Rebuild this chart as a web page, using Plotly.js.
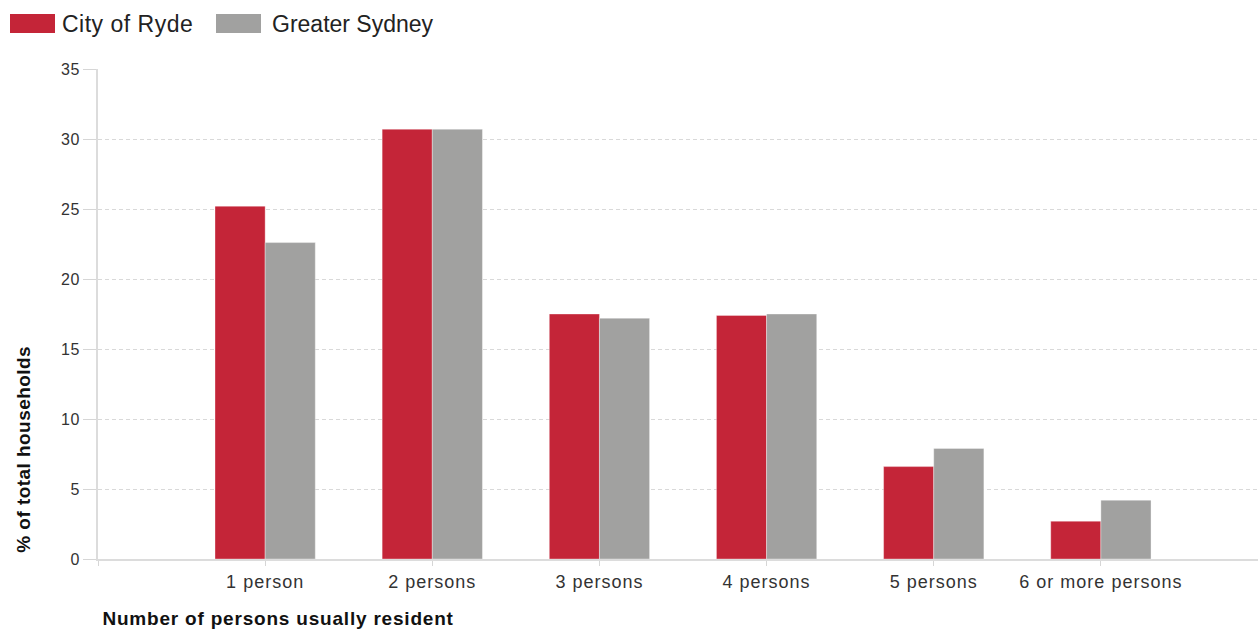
<!DOCTYPE html>
<html>
<head>
<meta charset="utf-8">
<script src="https://cdn.plot.ly/plotly-3.0.1.min.js"></script>
<style>
  html, body { margin: 0; padding: 0; background: #fff; }
  #chart { width: 1258px; height: 629px; }
  /* slightly open letter spacing for the chart texts */
  #chart .xtick text { letter-spacing: 1px; }
  #chart .ytick text { letter-spacing: 0.5px; }
  #chart g.annotation[data-index="0"] text { letter-spacing: 0.5px; }
  #chart g.annotation[data-index="2"] text { letter-spacing: 0.8px; }
  #chart g.annotation[data-index="3"] text { letter-spacing: 0.45px; }
</style>
</head>
<body>
<div id="chart"></div>
<script>
// Household size: share of total households
const categories = ['1 person', '2 persons', '3 persons', '4 persons', '5 persons', '6 or more persons'];
const seriesNames = ['City of Ryde', 'Greater Sydney'];
const rydeValues = [25.2, 30.7, 17.5, 17.4, 6.6, 2.7];
const sydneyValues = [22.6, 30.7, 17.2, 17.5, 7.9, 4.2];
const yTicks = [0, 5, 10, 15, 20, 25, 30, 35];
const xAxisTitle = 'Number of persons usually resident';
const yAxisTitle = '% of total households';

const colors = ['#c42538', '#a1a1a0'];
const FONT = '"Liberation Sans", Arial, sans-serif';

const traces = [rydeValues, sydneyValues].map((vals, i) => ({
  type: 'bar',
  name: seriesNames[i],
  x: categories,
  y: vals,
  marker: { color: colors[i], line: { color: 'rgba(255,255,255,0.35)', width: 1 } },
  showlegend: false,
  hoverinfo: 'x+y+name'
}));

// plot area in pixels: left 98, top 69, width 1160, height 490
const L = 98, T = 69, W = 1160, H = 490;
const px = x => (x - L) / W;
const py = y => (T + H - y) / H;

// legend drawn as swatches + labels above the plot
const legendItems = [
  { x0: 10, x1: 55, tx: 63 },
  { x0: 216, x1: 261, tx: 270 }
];
const shapes = legendItems.map((it, i) => ({
  type: 'rect', xref: 'paper', yref: 'paper',
  x0: px(it.x0), x1: px(it.x1), y0: py(33), y1: py(14),
  fillcolor: colors[i], line: { width: 0 }
}));
const annotations = legendItems.map((it, i) => ({
  xref: 'paper', yref: 'paper', x: px(it.tx), y: py(24),
  xanchor: 'left', yanchor: 'middle', showarrow: false,
  text: seriesNames[i],
  font: { family: FONT, size: 23, color: '#222' }
}));
annotations.push({
  xref: 'paper', yref: 'paper', x: px(278), y: py(618),
  xanchor: 'center', yanchor: 'middle', showarrow: false,
  text: '<b>' + xAxisTitle + '</b>',
  font: { family: FONT, size: 19, color: '#111' }
});
annotations.push({
  xref: 'paper', yref: 'paper', x: px(23), y: py(450),
  xanchor: 'center', yanchor: 'middle', showarrow: false, textangle: -90,
  text: '<b>' + yAxisTitle + '</b>',
  font: { family: FONT, size: 19, color: '#111' }
});

const layout = {
  width: 1258, height: 629,
  margin: { l: L, r: 1258 - L - W, t: T, b: 629 - T - H, pad: 0 },
  paper_bgcolor: '#fff', plot_bgcolor: '#fff',
  bargap: 0.4, bargroupgap: 0, barmode: 'group',
  font: { family: FONT, color: '#333' },
  xaxis: {
    type: 'category',
    range: [-1, 5.94],
    tickmode: 'array',
    tickvals: [-1, 0, 1, 2, 3, 4, 5],
    ticktext: [''].concat(categories),
    ticks: 'outside', ticklen: 5, tickcolor: '#d6d6d6', tickwidth: 1,
    tickfont: { family: FONT, size: 18, color: '#333' },
    showline: true, linecolor: '#dcdcdc', linewidth: 2,
    showgrid: false, zeroline: false, fixedrange: true
  },
  yaxis: {
    range: [0, 35],
    tickmode: 'array', tickvals: yTicks,
    ticks: 'outside', ticklen: 13, tickcolor: '#d6d6d6', tickwidth: 1,
    tickfont: { family: FONT, size: 16, color: '#333' },
    showline: true, linecolor: '#dcdcdc', linewidth: 2,
    showgrid: true, gridcolor: '#d9d9d9', gridwidth: 1, griddash: '4px,3px',
    zeroline: false, fixedrange: true
  },
  shapes: shapes,
  annotations: annotations
};

Plotly.newPlot('chart', traces, layout, { displayModeBar: false, staticPlot: true });
</script>
</body>
</html>
